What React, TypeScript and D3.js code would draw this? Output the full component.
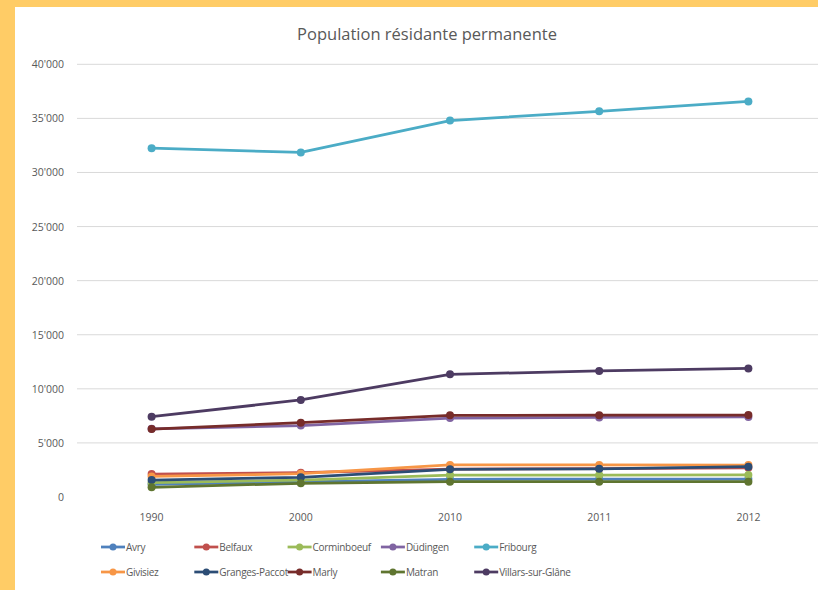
import React from "react"
import * as d3 from "d3"

const years = ["1990", "2000", "2010", "2011", "2012"]
const yTicks = [0, 5000, 10000, 15000, 20000, 25000, 30000, 35000, 40000]

const communes = [
  "Avry",
  "Belfaux",
  "Corminboeuf",
  "Düdingen",
  "Fribourg",
  "Givisiez",
  "Granges-Paccot",
  "Marly",
  "Matran",
  "Villars-sur-Glâne",
]

const colors = [
  "#4F81BD",
  "#C0504D",
  "#9BBB59",
  "#8064A2",
  "#4BACC6",
  "#F79646",
  "#2C4D75",
  "#772C2A",
  "#5F7530",
  "#4D3B62",
]

const avry = [1170, 1390, 1640, 1650, 1660]
const belfaux = [2120, 2250, 2580, 2620, 2700]
const corminboeuf = [1320, 1570, 2030, 2030, 2040]
const dudingen = [6300, 6600, 7300, 7350, 7400]
const fribourg = [32250, 31850, 34800, 35650, 36570]
const givisiez = [1900, 2150, 2960, 2960, 2950]
const grangesPaccot = [1570, 1820, 2560, 2600, 2800]
const marly = [6280, 6870, 7550, 7560, 7580]
const matran = [900, 1270, 1410, 1410, 1420]
const villars = [7420, 8970, 11340, 11650, 11890]

const series = [avry, belfaux, corminboeuf, dudingen, fribourg, givisiez, grangesPaccot, marly, matran, villars]

const W = 818
const H = 590
const font = "'Open Sans', 'Noto Sans', sans-serif"

export default function App() {
  const x = d3.scalePoint().domain(years).range([77, 823]).padding(0.5)
  const y = d3.scaleLinear().domain([0, 40000]).range([497, 64.3])
  const line = d3
    .line<number>()
    .x((_, i) => x(years[i]) as number)
    .y(d => y(d))

  const fmt = (v: number) => (v === 0 ? "0" : d3.format(",")(v).replace(/,/g, "'"))

  return (
    <svg width={W} height={H} style={{ position: "absolute", left: 0, top: 0 }}>
      <rect x={0} y={0} width={W} height={H} fill="#FFCC66" />
      <rect x={15} y={7} width={W - 15} height={H - 7} fill="#fff" />

      <text x={427} y={40} textAnchor="middle" fontFamily={font} fontSize={16.5} fill="#595959">
        Population résidante permanente
      </text>

      {yTicks.map(t => (
        <g key={t}>
          {t > 0 && <line x1={77} x2={W} y1={y(t)} y2={y(t)} stroke="#D9D9D9" strokeWidth={1} />}
          <text x={64} y={y(t) + 4} textAnchor="end" fontFamily={font} fontSize={10.5} fill="#595959">
            {fmt(t)}
          </text>
        </g>
      ))}

      {years.map(yr => (
        <text key={yr} x={x(yr)} y={521} textAnchor="middle" fontFamily={font} fontSize={10.5} fill="#595959">
          {yr}
        </text>
      ))}

      {series.map((s, i) => (
        <g key={communes[i]}>
          <path d={line(s) as string} fill="none" stroke={colors[i]} strokeWidth={2.75} strokeLinejoin="round" />
          {s.map((v, j) => (
            <circle key={j} cx={x(years[j])} cy={y(v)} r={4} fill={colors[i]} />
          ))}
        </g>
      ))}

      {communes.map((c, i) => {
        const lx = 101 + (i % 5) * 93.3
        const ly = i < 5 ? 547 : 572
        return (
          <g key={c}>
            <line x1={lx} x2={lx + 24} y1={ly} y2={ly} stroke={colors[i]} strokeWidth={2.75} />
            <circle cx={lx + 12} cy={ly} r={3.5} fill={colors[i]} />
            <text x={lx + 25} y={ly + 4} fontFamily={font} fontSize={10} letterSpacing={-0.3} fill="#595959">
              {c}
            </text>
          </g>
        )
      })}
    </svg>
  )
}
